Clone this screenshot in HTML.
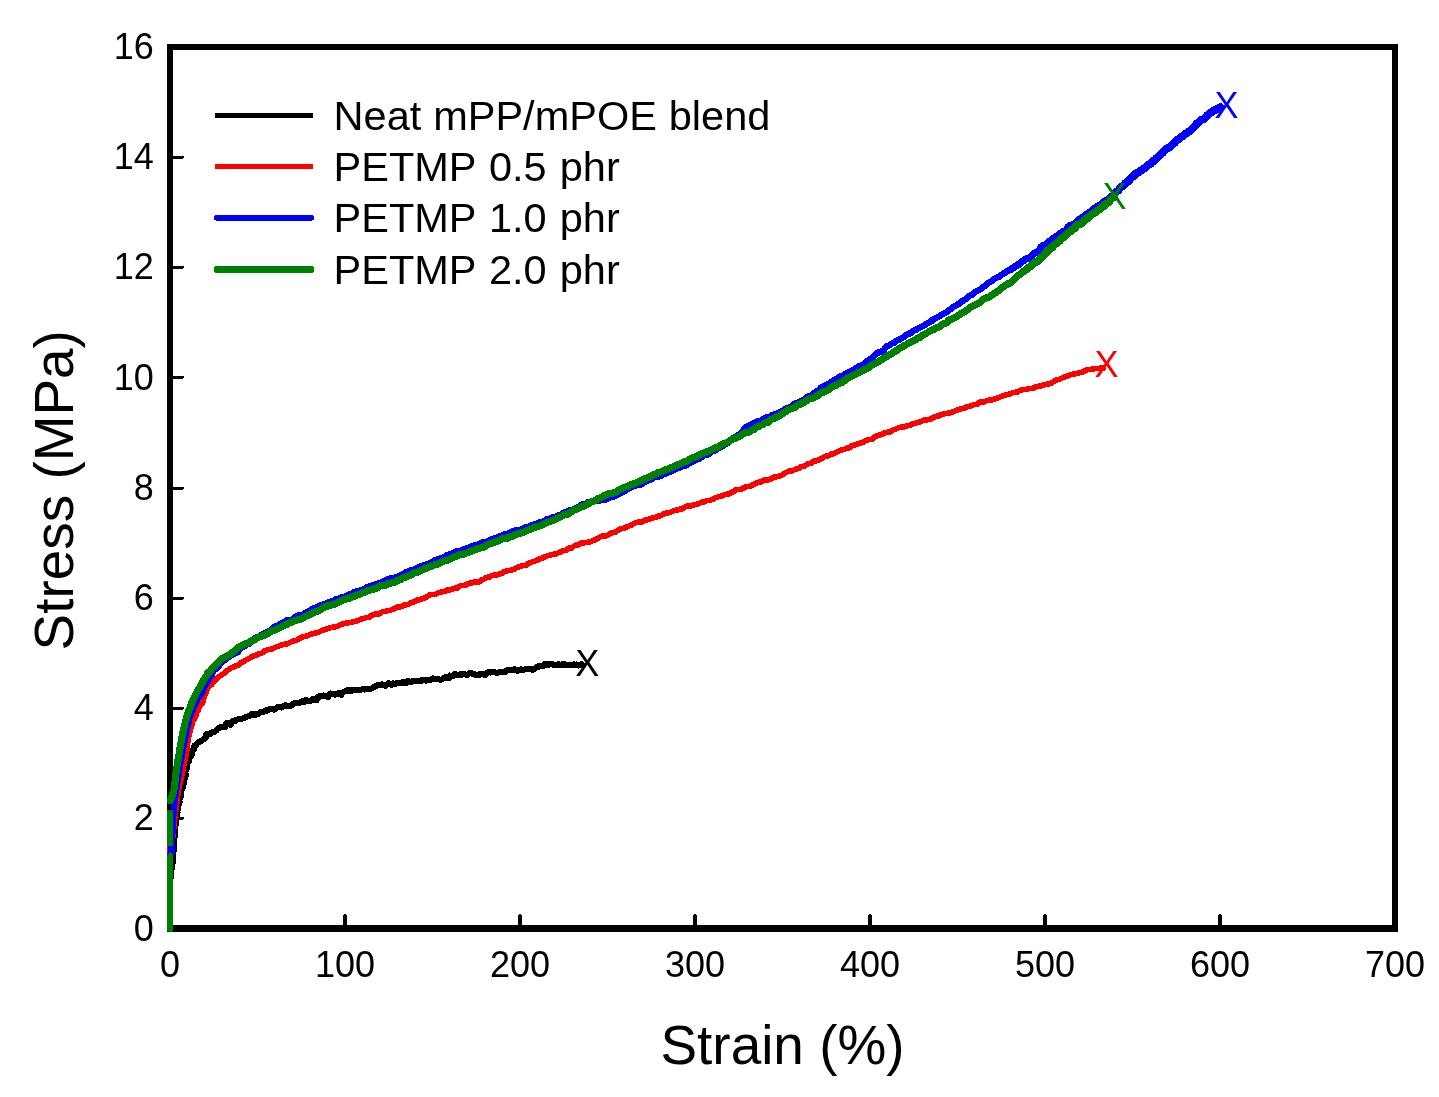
<!DOCTYPE html>
<html><head><meta charset="utf-8"><title>Stress-strain</title>
<style>
html,body{margin:0;padding:0;background:#fff;}
body{width:1439px;height:1097px;overflow:hidden;}
svg{display:block;will-change:transform;}
text{font-family:"Liberation Sans",sans-serif;fill:#000;}
.ln{fill:none;stroke-linejoin:round;stroke-linecap:round;shape-rendering:crispEdges;}
.cr{shape-rendering:crispEdges;}
</style></head><body>
<svg width="1439" height="1097" viewBox="0 0 1439 1097">

<g class="cr" fill="#000">
<rect x="167" y="44" width="6" height="888"/>
<rect x="1392" y="44" width="6" height="888"/>
<rect x="167" y="44" width="1231" height="6"/>
<rect x="167" y="925" width="1231" height="7"/>
<rect x="343" y="915" width="4" height="11"/><rect x="344" y="914" width="2" height="2"/>
<rect x="518" y="915" width="4" height="11"/><rect x="519" y="914" width="2" height="2"/>
<rect x="693" y="915" width="4" height="11"/><rect x="694" y="914" width="2" height="2"/>
<rect x="868" y="915" width="4" height="11"/><rect x="869" y="914" width="2" height="2"/>
<rect x="1043" y="915" width="4" height="11"/><rect x="1044" y="914" width="2" height="2"/>
<rect x="1218" y="915" width="4" height="11"/><rect x="1219" y="914" width="2" height="2"/>
<rect x="172" y="817" width="11" height="3"/><rect x="183" y="817" width="1" height="2"/>
<rect x="172" y="707" width="11" height="3"/><rect x="183" y="707" width="1" height="2"/>
<rect x="172" y="597" width="11" height="3"/><rect x="183" y="597" width="1" height="2"/>
<rect x="172" y="487" width="11" height="3"/><rect x="183" y="487" width="1" height="2"/>
<rect x="172" y="376" width="11" height="3"/><rect x="183" y="376" width="1" height="2"/>
<rect x="172" y="266" width="11" height="3"/><rect x="183" y="266" width="1" height="2"/>
<rect x="172" y="156" width="11" height="3"/><rect x="183" y="156" width="1" height="2"/>
</g>
<g font-size="36.0px">
<text x="170.0" y="976.8" text-anchor="middle">0</text>
<text x="345.0" y="976.8" text-anchor="middle">100</text>
<text x="520.0" y="976.8" text-anchor="middle">200</text>
<text x="695.0" y="976.8" text-anchor="middle">300</text>
<text x="870.0" y="976.8" text-anchor="middle">400</text>
<text x="1045.0" y="976.8" text-anchor="middle">500</text>
<text x="1220.0" y="976.8" text-anchor="middle">600</text>
<text x="1395.0" y="976.8" text-anchor="middle">700</text>
<text x="153.8" y="940.5" text-anchor="end">0</text>
<text x="153.8" y="830.3" text-anchor="end">2</text>
<text x="153.8" y="720.1" text-anchor="end">4</text>
<text x="153.8" y="609.9" text-anchor="end">6</text>
<text x="153.8" y="499.8" text-anchor="end">8</text>
<text x="153.8" y="389.6" text-anchor="end">10</text>
<text x="153.8" y="279.4" text-anchor="end">12</text>
<text x="153.8" y="169.2" text-anchor="end">14</text>
<text x="153.8" y="59.0" text-anchor="end">16</text>
</g>
<text x="782.5" y="1064.2" font-size="54.9px" text-anchor="middle">Strain (%)</text>
<text transform="translate(73,490.3) rotate(-90)" font-size="54.9px" text-anchor="middle">Stress (MPa)</text>
<path class="ln" d="M170.0,884.0 L170.1,882.5 L170.2,881.0 L170.4,879.5 L170.5,878.0 L170.6,876.5 L170.8,875.0 L171.0,873.5 L171.1,872.1 L171.3,870.6 L171.5,869.1 L171.8,867.6 L172.0,866.1 L172.2,864.6 L172.5,863.2 L172.6,861.7 L172.8,860.2 L172.9,858.7 L173.1,857.2 L173.2,855.7 L173.3,854.2 L173.4,852.7 L173.5,851.2 L173.6,849.7 L173.8,848.2 L173.9,846.7 L174.0,845.2 L174.1,843.7 L174.2,842.2 L174.3,840.7 L174.4,839.2 L174.5,837.7 L174.6,836.2 L174.7,834.7 L174.8,833.2 L175.0,831.7 L175.1,830.3 L175.2,828.8 L175.3,827.3 L175.5,825.8 L175.6,824.3 L175.8,822.8 L176.0,821.3 L176.2,819.8 L176.4,818.3 L176.6,816.8 L176.9,815.4 L177.3,813.9 L177.5,812.4 L177.4,810.9 L177.7,809.4 L178.2,808.0 L178.4,806.5 L178.5,805.0 L178.7,803.5 L179.6,802.1 L178.8,800.5 L179.1,799.0 L180.3,797.7 L181.0,796.3 L180.8,794.8 L180.4,793.1 L181.2,791.8 L181.6,790.3 L181.9,788.8 L183.0,787.5 L182.3,785.9 L182.5,784.4 L184.4,783.2 L184.2,781.7 L183.5,780.0 L184.5,778.7 L185.3,777.3 L185.8,775.9 L185.9,774.4 L185.0,772.6 L185.4,771.2 L186.1,769.8 L186.9,768.4 L187.3,767.0 L186.2,765.2 L185.8,763.5 L187.3,762.4 L188.8,761.3 L188.7,759.7 L189.0,758.1 L190.2,757.1 L191.0,755.8 L191.9,754.5 L192.4,753.1 L192.5,751.5 L193.0,750.0 L194.3,748.9 L194.1,747.2 L194.4,745.6 L196.2,745.2 L196.7,743.7 L197.8,742.7 L199.1,741.9 L200.6,741.2 L202.0,740.6 L203.1,739.5 L204.7,738.9 L205.6,737.8 L206.0,735.8 L206.5,734.0 L208.5,734.4 L210.1,734.3 L211.0,732.5 L212.6,732.3 L214.0,731.9 L215.4,731.3 L216.5,730.2 L217.5,729.0 L218.6,727.9 L220.2,727.6 L221.5,726.9 L223.1,726.7 L224.9,727.2 L225.8,725.4 L226.3,723.2 L227.9,723.1 L230.5,724.8 L231.5,723.5 L232.1,721.2 L233.8,721.3 L235.3,721.0 L236.4,719.7 L237.9,719.4 L239.5,719.4 L240.9,718.9 L242.4,718.5 L243.8,718.2 L245.1,717.2 L246.5,716.8 L248.0,716.4 L249.4,715.9 L250.8,715.2 L252.0,714.0 L253.8,714.9 L255.4,714.9 L256.6,713.7 L258.2,713.8 L259.5,712.9 L260.7,711.9 L262.3,712.1 L263.9,711.9 L265.0,710.5 L266.5,710.4 L268.2,710.5 L269.3,709.2 L270.8,708.8 L272.3,708.8 L274.1,709.8 L275.5,709.0 L276.7,707.9 L278.1,707.0 L279.5,706.6 L281.3,707.5 L282.7,706.9 L283.9,705.7 L285.4,705.3 L287.1,705.8 L288.6,705.7 L290.2,706.1 L291.6,705.5 L292.7,703.7 L294.2,703.3 L295.7,703.1 L297.1,702.9 L298.7,702.8 L300.2,702.6 L301.4,701.4 L303.0,701.6 L304.6,701.7 L305.8,700.3 L307.4,700.5 L309.1,701.1 L310.5,700.7 L311.9,699.9 L313.2,699.0 L315.0,700.0 L316.6,700.4 L317.5,697.7 L318.7,696.4 L320.3,696.6 L321.7,695.9 L323.2,695.5 L324.8,695.9 L326.4,696.3 L328.0,696.9 L329.1,694.4 L330.5,693.5 L332.1,693.8 L333.6,694.1 L335.2,694.7 L336.7,694.2 L338.1,693.4 L339.6,693.5 L341.4,694.7 L342.5,692.8 L343.8,691.6 L345.3,691.2 L346.7,690.7 L348.1,690.1 L349.8,690.9 L351.3,690.9 L352.7,689.6 L354.3,690.2 L355.7,689.9 L357.3,689.8 L358.8,689.7 L360.3,689.6 L361.7,689.5 L363.2,689.2 L364.8,689.5 L366.2,689.1 L367.7,688.8 L369.2,688.6 L370.7,688.6 L372.2,688.3 L373.5,687.2 L374.8,686.4 L376.3,685.9 L377.7,685.2 L379.2,685.3 L380.7,685.2 L382.1,684.3 L383.8,685.2 L385.4,685.7 L386.7,684.8 L388.0,683.4 L389.6,683.5 L391.3,684.7 L392.6,683.4 L394.2,683.7 L395.7,684.1 L397.1,682.8 L398.6,683.0 L400.2,683.4 L401.6,682.9 L403.0,681.9 L404.6,682.7 L406.2,683.0 L407.5,681.1 L409.0,681.5 L410.6,682.1 L412.0,681.5 L413.5,681.3 L415.0,681.0 L416.5,681.3 L418.0,680.7 L419.5,681.0 L421.0,681.0 L422.5,679.8 L424.0,679.9 L425.5,680.6 L427.0,680.5 L428.5,679.7 L430.1,680.1 L431.5,679.4 L433.0,678.3 L434.5,679.2 L436.0,678.8 L437.5,678.6 L439.0,679.3 L440.5,680.0 L441.9,679.4 L443.2,678.4 L444.6,678.3 L445.6,677.0 L447.5,677.8 L449.2,677.9 L449.9,675.5 L451.7,675.9 L453.3,675.8 L454.5,674.2 L456.1,674.3 L457.7,675.2 L459.2,674.8 L460.6,674.1 L462.2,674.6 L463.7,674.2 L465.2,674.3 L466.7,675.0 L468.2,674.4 L469.7,673.2 L471.2,673.5 L472.7,673.5 L474.2,674.1 L475.7,674.7 L477.2,674.6 L478.8,674.5 L480.3,674.5 L481.7,673.7 L483.2,673.6 L484.9,675.0 L486.2,673.9 L487.6,672.5 L489.1,672.4 L490.6,672.5 L492.1,672.1 L493.6,672.4 L495.1,672.4 L496.7,672.9 L498.2,672.7 L499.6,671.9 L501.1,672.4 L502.6,671.8 L504.1,672.3 L505.6,671.8 L507.1,670.2 L508.6,670.2 L510.1,670.4 L511.5,669.8 L513.0,669.6 L514.5,669.2 L516.0,670.2 L517.6,671.0 L518.9,670.0 L520.3,669.5 L521.9,669.5 L523.4,669.9 L524.9,669.5 L526.2,668.8 L527.8,668.9 L529.3,668.8 L530.9,669.1 L532.7,669.9 L534.0,669.0 L535.4,668.3 L536.6,667.2 L538.0,666.5 L539.7,666.5 L541.1,666.0 L542.7,666.2 L543.8,664.7 L545.2,663.8 L546.8,664.5 L548.3,664.6 L549.8,664.4 L551.3,663.7 L552.7,664.4 L554.2,665.0 L555.7,665.2 L557.3,664.5 L558.8,664.3 L560.3,665.2 L561.8,665.4 L563.3,663.9 L564.8,664.2 L566.3,665.2 L567.8,665.3 L569.3,665.0 L570.8,665.2 L572.3,664.7 L573.8,664.4 L575.3,664.7 L576.8,664.5 L578.3,665.5 L579.8,664.8 L581.2,664.2 L581.8,664.6" stroke="#000" stroke-width="6.1"/>
<path class="ln" d="M170.0,850.0 L170.6,848.1 L171.1,846.1 L171.6,844.2 L172.1,842.3 L172.5,840.3 L172.7,838.3 L173.0,836.4 L173.2,834.4 L173.4,832.4 L173.6,830.4 L173.8,828.4 L174.0,826.4 L174.2,824.4 L174.4,822.4 L174.6,820.4 L174.8,818.4 L175.0,816.4 L175.2,814.5 L175.5,812.5 L175.7,810.5 L175.9,808.5 L176.2,806.5 L176.5,804.5 L176.7,802.5 L177.0,800.6 L177.3,798.6 L177.6,796.6 L177.9,794.6 L178.2,792.7 L178.6,790.7 L178.9,788.7 L179.3,786.8 L179.7,784.8 L180.1,782.8 L180.6,780.9 L181.0,778.9 L181.4,777.0 L181.9,775.0 L182.3,773.1 L182.7,771.1 L183.1,769.2 L183.5,767.2 L183.9,765.2 L184.3,763.3 L184.8,761.3 L185.2,759.4 L185.5,757.4 L185.9,755.4 L186.3,753.5 L186.6,751.5 L186.9,749.5 L187.1,747.5 L187.4,745.5 L187.6,743.5 L187.9,741.6 L188.2,739.6 L188.5,737.6 L188.9,735.7 L189.3,733.7 L189.8,731.8 L190.4,729.9 L191.0,728.0 L191.6,726.1 L192.0,724.1 L192.5,722.1 L193.5,720.3 L194.7,718.6 L195.4,716.8 L196.2,715.0 L196.5,712.9 L197.5,711.2 L198.6,709.5 L199.0,707.4 L199.7,705.6 L201.4,704.1 L202.6,702.5 L203.2,700.5 L203.8,698.6 L204.2,696.6 L205.1,694.8 L206.0,693.0 L206.4,691.0 L207.3,689.3 L208.4,687.5 L209.7,686.0 L211.4,684.8 L212.5,683.1 L213.9,681.7 L215.4,680.4 L216.6,678.8 L218.2,677.5 L219.7,676.2 L221.5,675.2 L223.1,674.0 L224.6,672.6 L226.2,671.4 L227.8,670.2 L229.3,668.9 L231.1,667.9 L233.0,667.2 L234.9,666.4 L236.6,665.6 L238.6,664.9 L240.2,663.8 L241.6,662.2 L243.6,661.6 L245.3,660.6 L247.0,659.5 L248.8,658.6 L250.5,657.7 L252.3,656.7 L254.1,655.8 L256.1,655.4 L257.7,654.1 L259.7,653.6 L261.7,653.2 L263.3,652.0 L265.0,650.8 L266.9,650.0 L268.8,649.5 L270.8,649.2 L272.8,648.8 L274.6,647.8 L276.4,646.9 L278.3,646.3 L280.1,645.5 L282.0,644.9 L284.0,644.4 L286.0,644.1 L288.0,643.7 L289.7,642.6 L291.5,641.7 L293.4,641.1 L295.4,640.6 L297.2,639.9 L298.9,638.8 L300.7,637.9 L302.5,636.9 L304.5,636.5 L306.4,636.0 L308.3,635.4 L310.1,634.4 L312.1,633.9 L314.0,633.3 L315.9,632.8 L317.9,632.5 L319.8,631.7 L321.6,630.8 L323.4,630.0 L325.4,629.5 L327.2,628.7 L329.2,628.2 L331.1,627.7 L333.0,627.1 L335.0,626.8 L337.0,626.5 L338.8,625.7 L340.6,624.6 L342.5,623.9 L344.5,623.6 L346.4,622.9 L348.4,622.7 L350.4,622.5 L352.3,621.9 L354.3,621.6 L356.3,621.2 L358.1,620.4 L359.9,619.4 L361.8,618.8 L363.9,618.6 L365.7,617.8 L367.7,617.4 L369.6,616.9 L371.2,615.4 L373.1,614.7 L375.1,614.2 L377.1,614.0 L379.2,613.9 L380.9,612.7 L382.7,611.7 L384.7,611.5 L386.6,610.9 L388.6,610.6 L390.6,610.2 L392.4,609.2 L394.3,608.7 L396.0,607.6 L397.9,607.0 L400.0,607.0 L401.9,606.3 L403.7,605.3 L405.7,604.8 L407.7,604.6 L409.6,603.8 L411.2,602.4 L413.2,602.1 L415.0,601.3 L416.8,600.3 L418.8,600.0 L420.7,599.4 L422.5,598.6 L424.4,597.9 L426.4,597.5 L428.0,596.0 L429.7,594.9 L431.8,594.6 L433.9,594.7 L435.8,594.1 L437.6,593.2 L439.5,592.5 L441.5,592.1 L443.4,591.6 L445.3,591.0 L447.1,590.1 L449.1,589.7 L451.2,589.7 L452.9,588.6 L454.9,588.2 L457.0,588.2 L458.7,586.9 L460.5,585.8 L462.5,585.5 L464.5,585.5 L466.4,584.6 L468.1,583.4 L470.1,583.2 L472.1,583.0 L473.9,582.0 L476.1,582.2 L478.2,582.3 L480.0,581.2 L481.7,580.0 L483.6,579.3 L485.3,578.2 L487.1,577.3 L489.1,577.1 L490.9,576.1 L492.8,575.3 L494.9,575.2 L496.9,575.0 L498.8,574.3 L500.7,573.8 L502.5,572.9 L504.2,571.7 L506.1,570.9 L508.1,570.6 L510.2,570.6 L512.1,569.9 L513.9,569.2 L515.7,568.2 L517.5,567.2 L519.4,566.7 L521.2,565.8 L523.3,565.7 L525.4,565.6 L527.1,564.3 L528.8,563.2 L530.7,562.5 L532.5,561.7 L534.4,561.2 L536.4,560.6 L538.1,559.7 L540.0,558.9 L541.9,558.2 L543.7,557.4 L545.5,556.5 L547.4,555.8 L549.3,555.3 L551.3,554.8 L553.2,554.3 L555.2,554.0 L557.2,553.5 L558.9,552.4 L560.8,551.8 L562.6,550.9 L564.6,550.4 L566.6,550.0 L568.2,548.6 L570.1,547.9 L572.1,547.8 L573.7,546.3 L575.5,545.3 L577.5,545.1 L579.3,544.1 L581.1,543.2 L583.1,542.9 L585.1,542.6 L587.2,542.3 L589.2,542.2 L591.1,541.4 L592.9,540.5 L594.8,539.9 L596.6,539.0 L598.4,538.0 L600.1,536.9 L602.0,536.2 L604.0,536.1 L606.1,535.8 L607.9,535.0 L609.7,534.0 L611.4,532.9 L613.3,532.4 L615.4,532.1 L617.1,530.9 L618.7,529.7 L620.6,528.9 L622.6,528.5 L624.6,528.1 L626.3,527.1 L628.2,526.3 L630.1,525.7 L631.9,524.8 L633.6,523.7 L635.4,522.9 L637.3,522.2 L639.3,521.9 L641.6,522.3 L643.3,521.1 L645.0,520.0 L647.1,519.9 L649.0,519.2 L650.9,518.6 L652.8,517.9 L654.7,517.6 L656.7,517.0 L658.5,516.1 L660.4,515.7 L662.3,514.9 L664.0,513.7 L665.9,513.1 L668.0,513.0 L669.9,512.5 L671.7,511.6 L673.6,510.8 L675.5,510.2 L677.5,509.9 L679.4,509.3 L681.4,509.0 L683.3,508.3 L685.0,507.0 L686.8,506.0 L688.8,506.0 L690.9,505.9 L692.8,505.3 L694.7,504.7 L696.7,504.2 L698.6,503.8 L700.4,502.8 L702.3,502.1 L704.3,501.9 L706.1,500.9 L708.1,500.4 L710.2,500.4 L712.0,499.7 L713.8,498.7 L715.6,497.8 L717.5,497.2 L719.4,496.5 L721.3,496.0 L723.2,495.3 L725.1,494.7 L727.0,494.0 L729.0,493.8 L730.8,492.8 L732.6,492.0 L734.5,491.2 L736.1,489.7 L738.1,489.5 L740.2,489.3 L742.1,488.8 L743.9,487.8 L745.7,486.9 L747.7,486.6 L749.7,486.2 L751.6,485.5 L753.4,484.6 L755.2,483.7 L756.9,482.7 L758.9,482.2 L760.9,481.8 L762.7,481.0 L764.5,480.0 L766.5,479.7 L768.7,479.8 L770.5,479.0 L772.3,478.1 L774.1,477.2 L776.1,476.8 L778.0,476.4 L780.0,475.9 L781.9,475.1 L783.5,473.7 L785.3,472.8 L787.1,472.0 L788.9,471.2 L791.0,470.9 L793.0,470.7 L794.7,469.4 L796.6,468.9 L798.6,468.5 L800.2,467.2 L802.1,466.6 L804.1,466.1 L805.9,465.1 L807.5,463.9 L809.5,463.4 L811.5,463.0 L813.1,461.6 L814.9,460.9 L817.0,460.7 L818.8,459.7 L820.6,458.9 L822.4,458.1 L824.1,457.0 L826.0,456.2 L828.1,456.0 L829.9,455.1 L831.6,454.0 L833.6,453.7 L835.4,452.7 L837.2,451.8 L839.0,451.0 L840.8,450.2 L842.8,449.7 L844.7,449.1 L846.5,448.2 L848.6,448.0 L850.4,447.3 L852.0,445.8 L853.9,445.2 L855.7,444.4 L857.7,444.0 L859.6,443.2 L861.5,442.6 L863.5,442.2 L865.1,440.9 L867.0,440.1 L868.9,439.6 L870.9,439.4 L872.9,438.8 L874.4,437.2 L876.2,436.2 L878.0,435.4 L880.0,435.0 L881.9,434.4 L883.6,433.4 L885.5,432.8 L887.5,432.3 L889.6,432.2 L891.4,431.1 L893.0,429.9 L895.0,429.5 L896.8,428.6 L898.7,427.8 L900.6,427.3 L902.7,427.1 L904.6,426.6 L906.5,425.9 L908.4,425.4 L910.4,425.1 L912.2,424.2 L914.1,423.6 L916.0,423.0 L917.9,422.4 L919.9,422.1 L921.8,421.2 L923.5,420.2 L925.6,419.9 L927.6,419.7 L929.6,419.4 L931.4,418.6 L933.2,417.5 L935.1,416.9 L937.0,416.2 L938.9,415.8 L940.8,414.9 L942.6,414.2 L944.6,413.8 L946.6,413.4 L948.5,413.0 L950.5,412.7 L952.4,412.1 L954.3,411.4 L956.2,410.6 L958.0,409.7 L959.9,409.0 L961.8,408.6 L963.8,408.2 L965.7,407.6 L967.5,406.5 L969.5,406.2 L971.4,405.7 L973.2,404.8 L975.2,404.4 L977.2,404.1 L978.9,402.9 L980.7,401.9 L982.8,401.9 L984.8,401.7 L986.6,400.8 L988.5,400.2 L990.6,400.2 L992.6,399.6 L994.4,398.9 L996.4,398.6 L998.2,397.7 L1000.1,397.0 L1002.0,396.3 L1003.8,395.5 L1005.7,394.9 L1007.7,394.5 L1009.7,394.1 L1011.5,393.2 L1013.3,392.3 L1015.4,392.3 L1017.4,392.0 L1019.2,391.0 L1021.1,390.2 L1022.9,389.4 L1025.0,389.4 L1027.0,389.3 L1028.9,388.5 L1030.9,388.3 L1033.0,388.4 L1034.8,387.3 L1036.7,386.6 L1038.6,386.3 L1040.6,386.0 L1042.6,385.6 L1044.4,384.6 L1046.4,384.3 L1048.4,384.1 L1050.3,383.3 L1052.2,382.7 L1053.8,381.4 L1055.5,380.3 L1057.5,379.8 L1059.4,379.2 L1061.2,378.4 L1063.0,377.4 L1064.9,376.9 L1066.8,376.2 L1068.7,375.6 L1070.5,374.7 L1072.5,374.3 L1074.5,374.0 L1076.4,373.4 L1078.4,373.0 L1080.3,372.5 L1082.3,372.2 L1084.2,371.6 L1085.9,370.1 L1087.8,369.7 L1089.9,369.5 L1091.9,369.2 L1093.9,369.0 L1095.8,368.4 L1097.8,368.3 L1099.8,368.3 L1101.8,368.0 L1103.4,368.0" stroke="#f00" stroke-width="5.6"/>
<path class="ln" d="M170.0,850.0 L170.5,848.1 L171.0,846.1 L171.4,844.1 L171.8,842.2 L172.0,840.2 L172.1,838.2 L172.2,836.2 L172.3,834.2 L172.4,832.2 L172.4,830.2 L172.5,828.2 L172.6,826.2 L172.7,824.2 L172.8,822.2 L173.0,820.2 L173.1,818.2 L173.3,816.2 L173.4,814.2 L173.6,812.2 L173.8,810.3 L174.0,808.3 L174.2,806.3 L174.4,804.3 L174.6,802.3 L174.9,800.3 L175.2,798.3 L175.4,796.4 L175.7,794.4 L176.0,792.4 L176.2,790.4 L176.5,788.4 L176.8,786.4 L177.1,784.5 L177.4,782.5 L177.7,780.5 L178.0,778.5 L178.3,776.6 L178.6,774.6 L178.9,772.6 L179.2,770.6 L179.5,768.7 L179.9,766.7 L180.2,764.7 L180.5,762.7 L180.9,760.8 L181.2,758.8 L181.6,756.8 L181.9,754.9 L182.3,752.9 L182.6,750.9 L183.0,749.0 L183.4,747.0 L183.8,745.0 L184.2,743.1 L184.5,741.1 L185.0,739.1 L185.4,737.2 L185.8,735.2 L186.2,733.3 L186.6,731.3 L187.0,729.3 L187.4,727.4 L187.7,725.4 L188.3,723.5 L189.0,721.6 L189.1,719.5 L189.4,717.6 L190.5,715.8 L191.1,713.9 L192.0,712.1 L192.6,710.2 L193.1,708.2 L193.9,706.4 L195.0,704.7 L196.1,703.0 L196.7,701.0 L197.2,699.1 L198.5,697.5 L200.0,696.0 L200.8,694.2 L201.9,692.5 L202.9,690.7 L203.5,688.8 L204.4,687.0 L205.3,685.2 L206.7,683.7 L207.6,681.9 L208.1,679.9 L209.4,678.3 L210.6,676.7 L211.7,675.0 L212.4,673.1 L213.2,671.2 L214.7,669.7 L216.5,668.7 L218.0,667.2 L219.1,665.6 L220.3,663.9 L221.8,662.6 L223.2,661.2 L224.8,660.0 L226.4,658.7 L227.9,657.5 L229.7,656.5 L231.4,655.4 L233.1,654.3 L235.0,653.5 L236.8,652.7 L238.3,651.3 L239.5,649.5 L240.8,647.9 L242.8,647.2 L244.5,646.2 L246.0,644.8 L247.8,643.9 L249.8,643.4 L251.1,641.7 L252.2,640.0 L253.9,638.8 L255.7,637.8 L257.4,636.9 L259.4,636.3 L261.0,635.3 L262.6,634.1 L264.5,633.4 L266.4,632.6 L268.2,631.7 L269.9,630.6 L271.4,629.2 L273.0,627.9 L274.7,626.8 L276.6,626.2 L278.6,625.6 L280.0,624.1 L281.7,623.0 L283.6,622.3 L285.4,621.3 L287.1,620.2 L289.0,619.7 L291.3,619.8 L293.0,618.8 L294.5,617.3 L296.3,616.4 L298.1,615.5 L300.1,615.1 L302.2,614.8 L304.0,613.8 L305.7,612.8 L307.5,612.0 L309.3,611.1 L310.9,609.9 L312.6,608.8 L314.6,608.2 L316.4,607.3 L318.1,606.3 L319.9,605.5 L321.8,604.7 L323.8,604.4 L325.7,603.6 L327.5,602.7 L329.4,602.3 L331.3,601.6 L333.2,601.0 L334.9,599.8 L336.7,598.9 L338.7,598.6 L340.5,597.6 L342.5,597.2 L344.4,596.7 L346.3,596.0 L348.1,595.0 L349.9,594.3 L351.8,593.6 L353.5,592.5 L355.5,592.0 L357.3,591.1 L359.3,590.7 L361.2,590.3 L363.1,589.7 L364.9,588.8 L366.6,587.4 L368.5,586.7 L370.4,586.2 L372.3,585.5 L374.1,584.7 L376.0,584.1 L378.0,583.7 L379.8,582.9 L381.7,582.1 L383.6,581.5 L385.2,580.3 L387.1,579.6 L389.0,578.8 L391.0,578.4 L393.1,578.3 L394.9,577.6 L396.8,576.8 L398.8,576.5 L400.6,575.6 L402.3,574.4 L404.1,573.6 L405.8,572.3 L407.7,571.8 L409.5,570.9 L411.4,570.2 L413.4,569.8 L415.2,569.1 L417.1,568.2 L418.8,567.1 L420.6,566.4 L422.5,565.8 L424.4,565.1 L426.3,564.5 L428.2,563.8 L430.0,562.9 L431.8,562.1 L433.6,561.2 L435.3,560.0 L437.2,559.3 L439.1,558.7 L441.1,558.3 L443.2,558.2 L444.7,556.6 L446.4,555.5 L448.4,555.2 L450.2,554.1 L452.1,553.5 L454.0,552.9 L455.7,551.7 L457.6,551.2 L459.7,550.9 L461.6,550.4 L463.4,549.4 L465.2,548.7 L467.3,548.6 L469.1,547.5 L470.8,546.5 L472.8,546.1 L474.7,545.4 L476.7,545.2 L478.7,544.6 L480.3,543.3 L482.1,542.4 L484.0,541.9 L486.1,541.8 L488.1,541.2 L489.7,539.9 L491.7,539.4 L493.5,538.6 L495.5,538.4 L497.4,537.5 L499.1,536.4 L501.1,536.0 L502.9,535.3 L504.7,534.3 L506.7,533.9 L508.7,533.5 L510.4,532.5 L512.2,531.6 L514.1,530.8 L516.1,530.4 L518.1,530.3 L520.1,529.7 L522.0,529.1 L523.8,528.4 L525.6,527.5 L527.5,526.9 L529.5,526.4 L531.3,525.4 L533.1,524.7 L535.1,524.4 L537.0,523.6 L538.7,522.5 L540.7,522.0 L542.7,521.8 L544.5,520.9 L546.2,519.6 L548.1,519.0 L550.1,518.6 L551.8,517.5 L553.6,516.7 L555.8,516.7 L557.5,515.6 L559.4,515.0 L561.4,514.6 L563.0,513.3 L564.8,512.4 L566.6,511.6 L568.4,510.6 L570.6,510.6 L572.4,509.7 L574.2,508.9 L576.1,508.3 L577.9,507.3 L579.7,506.5 L581.3,505.1 L583.1,504.1 L585.1,503.8 L586.9,502.9 L588.7,501.7 L590.8,501.7 L592.7,501.4 L594.7,500.6 L596.7,500.3 L598.7,500.6 L600.7,500.4 L602.6,500.1 L604.6,500.0 L606.5,499.3 L608.2,498.1 L610.0,497.2 L611.9,496.7 L613.9,496.4 L615.8,495.7 L617.6,494.8 L619.4,493.8 L621.2,493.0 L623.0,492.1 L624.8,491.0 L626.5,489.9 L628.1,488.7 L630.1,488.0 L631.9,487.2 L633.7,486.2 L635.7,485.7 L637.6,485.1 L639.6,484.7 L641.6,484.3 L643.1,482.7 L644.9,481.8 L646.9,481.3 L648.6,480.3 L650.6,479.7 L652.4,479.0 L653.9,477.3 L655.9,476.9 L658.0,476.8 L659.9,476.2 L661.8,475.5 L663.4,474.1 L665.4,473.8 L667.2,473.0 L668.9,471.8 L671.0,471.5 L672.8,470.7 L674.5,469.7 L676.4,468.8 L678.3,468.2 L680.0,467.2 L681.8,466.4 L683.7,465.8 L685.8,465.4 L687.5,464.4 L689.0,462.9 L691.0,462.4 L692.9,461.7 L694.6,460.7 L696.4,459.8 L698.3,459.2 L700.1,458.2 L701.7,457.0 L703.3,455.6 L705.0,454.6 L707.2,454.6 L709.1,453.8 L710.6,452.4 L712.4,451.4 L714.2,450.7 L716.1,450.0 L717.7,448.7 L719.5,447.8 L721.3,447.0 L723.0,445.9 L724.5,444.6 L726.3,443.7 L728.1,442.7 L729.4,441.2 L730.9,439.7 L732.5,438.5 L734.3,437.7 L736.0,436.5 L737.6,435.3 L739.3,434.2 L741.0,433.1 L742.5,431.7 L743.7,430.0 L744.7,428.2 L746.2,426.9 L748.2,426.3 L749.8,425.3 L751.6,424.4 L753.3,423.4 L755.1,422.4 L757.0,421.6 L759.0,421.2 L760.9,420.5 L762.6,419.4 L764.3,418.3 L766.1,417.5 L768.2,417.3 L770.1,416.7 L771.7,415.3 L773.6,414.7 L775.7,414.4 L777.4,413.4 L779.1,412.3 L781.0,411.5 L782.8,410.7 L784.5,409.6 L786.1,408.5 L788.1,407.8 L790.0,407.2 L791.8,406.4 L793.3,404.9 L794.9,403.6 L797.0,403.3 L798.6,402.1 L800.4,401.2 L802.3,400.4 L804.0,399.4 L805.6,398.2 L807.2,396.9 L809.1,396.2 L811.0,395.4 L812.6,394.2 L814.1,392.9 L815.8,391.9 L817.6,391.0 L819.1,389.6 L820.5,388.0 L822.3,387.2 L824.0,386.1 L825.7,385.0 L827.6,384.3 L829.4,383.4 L830.9,382.0 L832.7,381.1 L834.4,380.0 L836.1,379.0 L837.9,378.1 L839.4,376.8 L841.5,376.3 L843.3,375.4 L844.8,374.1 L846.6,373.2 L848.5,372.4 L850.4,371.7 L852.1,370.6 L853.9,369.9 L855.6,368.7 L857.1,367.3 L858.8,366.3 L860.7,365.6 L862.6,364.8 L864.4,363.9 L865.9,362.6 L867.3,361.1 L869.0,360.1 L870.5,358.8 L872.2,357.6 L873.9,356.5 L875.2,354.9 L876.6,353.5 L878.4,352.5 L880.3,351.8 L882.4,351.3 L883.8,349.9 L885.1,348.2 L886.4,346.6 L888.2,345.7 L890.2,345.1 L891.7,343.8 L893.6,343.0 L895.2,341.8 L896.8,340.6 L898.8,339.9 L900.4,338.8 L902.2,337.8 L904.1,337.2 L905.6,335.8 L907.1,334.3 L909.0,333.7 L910.9,333.0 L912.4,331.6 L914.1,330.5 L916.0,329.7 L917.7,328.6 L919.5,327.8 L921.2,326.8 L923.1,326.0 L924.9,325.2 L926.5,323.9 L928.2,322.9 L930.0,322.0 L931.7,320.9 L933.1,319.3 L934.9,318.4 L936.8,317.7 L938.6,316.8 L940.3,315.8 L941.9,314.6 L943.7,313.7 L945.6,312.9 L947.2,311.8 L948.7,310.3 L950.3,309.2 L952.0,308.0 L953.6,306.9 L955.3,305.9 L957.0,304.7 L958.9,304.0 L960.5,302.9 L961.9,301.4 L963.6,300.3 L965.4,299.3 L966.9,297.9 L968.3,296.5 L970.1,295.6 L972.0,294.7 L973.7,293.7 L975.1,292.3 L976.7,291.1 L978.5,290.1 L980.4,289.4 L982.0,288.2 L983.5,286.9 L985.2,285.7 L986.6,284.3 L988.2,283.1 L990.0,282.1 L991.7,281.1 L993.4,280.0 L994.8,278.5 L996.6,277.6 L998.7,277.2 L1000.2,275.8 L1001.8,274.6 L1003.5,273.6 L1005.3,272.6 L1006.8,271.3 L1008.6,270.4 L1010.5,269.6 L1012.2,268.6" stroke="#00f" stroke-width="6.4"/>
<path class="ln" d="M1008.6,270.4 L1010.5,269.6 L1012.2,268.6 L1014.0,267.7 L1015.5,266.3 L1017.1,265.2 L1019.0,264.3 L1020.6,263.2 L1022.1,261.7 L1023.8,260.8 L1025.3,259.4 L1027.2,258.7 L1029.2,258.1 L1030.6,256.5 L1032.3,255.4 L1033.8,254.1 L1035.2,252.7 L1037.3,252.1 L1039.1,251.1 L1040.0,249.1 L1040.9,247.0 L1042.6,245.9 L1044.7,245.4 L1046.4,244.2 L1047.7,242.6 L1049.4,241.6 L1050.9,240.3 L1052.5,239.0 L1054.3,238.1 L1055.9,237.0 L1057.4,235.7 L1058.9,234.3 L1060.6,233.1 L1062.3,232.1 L1064.1,231.2 L1066.1,230.6 L1067.5,229.1 L1068.5,227.1 L1070.2,226.0 L1072.1,225.2" stroke="#00f" stroke-width="7.2"/>
<path class="ln" d="M1067.5,229.1 L1068.5,227.1 L1070.2,226.0 L1072.1,225.2 L1074.0,224.4 L1075.7,223.4 L1077.0,221.8 L1078.4,220.3 L1080.3,219.5 L1081.9,218.2 L1083.5,217.0 L1085.2,216.0 L1086.7,214.7 L1088.4,213.6 L1090.0,212.4 L1091.7,211.4 L1093.0,209.8 L1094.6,208.5 L1096.4,207.6 L1098.0,206.5 L1099.9,205.7 L1101.5,204.5 L1102.9,202.9 L1104.5,201.7 L1106.2,200.7 L1108.1,199.8 L1109.5,198.4 L1111.1,197.2 L1112.8,196.2 L1114.1,194.5 L1115.3,192.9 L1116.7,191.5 L1118.5,190.4 L1119.5,188.6 L1120.9,187.2 L1123.0,186.4 L1124.2,184.8 L1125.4,183.2 L1127.2,182.2 L1128.8,181.0 L1129.8,179.1 L1131.1,177.6 L1132.9,176.6 L1134.4,175.3 L1135.6,173.7 L1137.4,172.7 L1139.3,171.8 L1140.8,170.6 L1142.5,169.5 L1144.2,168.4 L1145.8,167.2 L1147.1,165.6 L1148.9,164.6 L1150.7,163.7 L1152.1,162.2 L1153.6,160.9 L1155.2,159.7 L1156.4,158.1 L1158.2,157.0 L1159.5,155.5 L1160.9,154.1 L1162.5,152.9 L1163.9,151.4 L1165.3,150.0 L1166.7,148.5 L1168.6,147.7 L1170.3,146.6 L1171.7,145.2 L1173.2,143.8 L1174.8,142.6 L1176.2,141.1 L1177.5,139.6 L1179.3,138.7 L1180.9,137.4 L1182.4,136.1 L1184.0,134.9 L1185.7,133.8 L1187.2,132.5 L1189.0,131.6 L1190.7,130.5 L1192.2,129.1 L1193.6,127.7 L1194.9,126.1 L1196.1,124.4 L1197.6,123.1 L1199.0,121.7 L1200.5,120.3 L1202.5,119.6 L1204.4,118.7 L1205.9,117.4 L1207.0,115.6 L1208.5,114.3 L1210.1,113.1 L1211.7,111.9 L1213.4,110.8 L1215.0,109.7 L1217.0,109.1 L1218.8,108.2 L1220.4,107.2" stroke="#00f" stroke-width="8.0"/>
<g class="cr">
<rect x="167" y="855" width="6" height="76" fill="#008000"/>
<path d="M168,931 L172,931 L172,932 L169,932 Z" fill="#008000"/>
<rect x="167" y="845" width="8" height="10" fill="#00f"/>
<path d="M167,855 L170,852 L173,855 Z" fill="#008000"/>
<rect x="167" y="845" width="1.4" height="8" fill="#f00"/>
<rect x="167" y="810" width="6" height="35.6" fill="#008000"/>
</g>
<path class="ln" d="M170.3,800.5 L171.0,798.6 L171.7,796.8 L172.4,794.9 L173.0,793.0 L173.6,791.1 L174.1,789.1 L174.4,787.2 L174.7,785.2 L174.9,783.2 L175.2,781.2 L175.4,779.2 L175.6,777.2 L175.8,775.2 L176.0,773.2 L176.3,771.3 L176.6,769.3 L176.9,767.3 L177.2,765.3 L177.5,763.4 L177.8,761.4 L178.2,759.4 L178.5,757.4 L178.8,755.5 L179.2,753.5 L179.5,751.5 L179.8,749.5 L180.1,747.6 L180.5,745.6 L180.8,743.6 L181.2,741.6 L181.5,739.7 L181.9,737.7 L182.3,735.8 L182.7,733.8 L183.1,731.8 L183.5,729.9 L184.0,727.9 L184.4,726.0 L184.9,724.0 L185.4,722.1 L185.9,720.2 L186.4,718.2 L187.0,716.3 L187.6,714.4 L188.2,712.5 L188.9,710.6 L189.6,708.8 L190.3,706.9 L191.0,705.0 L191.7,703.1 L192.5,701.3 L193.3,699.5 L194.2,697.7 L195.0,695.9 L195.9,694.1 L196.9,692.3 L197.8,690.5 L198.8,688.8 L199.8,687.0 L200.7,685.3 L201.7,683.6 L202.7,681.8 L203.7,680.1 L204.7,678.3 L205.8,676.7 L206.9,675.0 L207.7,673.1 L209.4,671.8 L210.8,670.4 L211.7,668.5 L213.4,667.4 L214.9,666.1 L216.2,664.5 L217.6,663.1 L219.0,661.6 L220.3,660.2 L221.7,658.6 L223.4,657.6 L225.3,656.8 L227.1,655.9 L229.1,655.3 L230.5,653.8 L232.0,652.4 L233.7,651.4 L235.3,650.0 L236.8,648.8 L238.4,647.5 L240.1,646.5 L241.9,645.5 L243.7,644.7 L245.5,643.8 L247.4,643.1 L249.2,642.2 L250.9,641.2 L252.8,640.4 L254.6,639.5 L256.2,638.4 L258.0,637.4 L259.7,636.5 L261.7,636.0 L263.7,635.4 L265.5,634.6 L267.3,633.7 L269.0,632.7 L270.8,631.8 L272.6,630.8 L274.5,630.2 L276.4,629.5 L278.0,628.4 L279.9,627.6 L281.6,626.6 L283.4,625.6 L285.3,625.0 L287.1,624.2 L288.8,623.1 L290.7,622.4 L292.5,621.4 L294.4,620.9 L296.3,620.3 L298.1,619.4 L300.2,619.1 L302.2,618.7 L303.9,617.5 L305.5,616.4 L307.4,615.7 L309.3,615.1 L311.0,614.0 L312.7,612.9 L314.6,612.3 L316.5,611.5 L318.3,610.7 L320.2,610.0 L321.8,608.7 L323.5,607.7 L325.3,606.6 L327.2,606.0 L329.3,605.9 L331.1,605.1 L333.0,604.4 L335.0,604.0 L336.8,603.1 L338.6,602.1 L340.4,601.4 L342.2,600.4 L344.1,599.7 L346.0,599.1 L347.9,598.6 L349.8,598.0 L351.7,597.2 L353.5,596.5 L355.4,595.8 L357.2,594.7 L359.1,594.2 L361.0,593.6 L362.8,592.7 L364.7,592.1 L366.6,591.3 L368.4,590.5 L370.3,589.9 L372.3,589.6 L374.2,589.0 L376.2,588.5 L378.1,587.8 L379.6,586.2 L381.4,585.4 L383.7,585.7 L385.6,585.2 L387.3,584.0 L389.2,583.3 L391.2,582.9 L393.2,582.6 L395.0,581.8 L396.8,580.8 L398.7,580.2 L400.6,579.5 L402.3,578.3 L404.1,577.6 L406.1,577.0 L407.8,576.0 L409.7,575.4 L411.5,574.6 L413.1,573.1 L415.0,572.5 L417.2,572.6 L419.0,571.6 L420.7,570.6 L422.6,569.9 L424.4,569.0 L426.2,568.2 L428.1,567.6 L430.0,566.8 L431.8,566.0 L433.6,565.1 L435.6,564.7 L437.6,564.4 L439.4,563.5 L441.2,562.5 L442.9,561.5 L444.8,560.9 L446.9,560.7 L448.6,559.5 L450.5,558.8 L452.3,558.0 L454.0,556.9 L456.1,556.7 L457.9,555.7 L459.6,554.6 L461.6,554.3 L463.7,554.1 L465.5,553.3 L467.4,552.7 L469.2,551.9 L471.2,551.3 L473.1,550.7 L474.8,549.7 L476.7,549.1 L478.6,548.5 L480.6,548.0 L482.6,547.7 L484.4,546.8 L486.1,545.6 L487.8,544.4 L489.6,543.6 L491.6,543.1 L493.5,542.6 L495.4,541.9 L497.3,541.2 L499.2,540.6 L501.0,539.7 L502.8,538.8 L504.9,538.6 L506.9,538.4 L508.6,537.4 L510.6,536.8 L512.4,536.1 L514.2,535.2 L516.0,534.2 L518.0,533.7 L520.0,533.4 L521.9,532.8 L523.8,532.2 L525.6,531.3 L527.4,530.4 L529.3,529.8 L531.2,529.1 L532.9,528.0 L534.8,527.3 L536.7,526.8 L538.7,526.2 L540.6,525.7 L542.4,524.8 L544.2,523.9 L546.0,523.1 L547.8,522.2 L549.7,521.6 L551.6,521.0 L553.5,520.3 L555.2,519.2 L557.1,518.4 L559.0,517.8 L560.7,516.7 L562.5,515.8 L564.2,514.9 L566.3,514.6 L568.2,514.0 L569.9,512.8 L571.6,511.7 L573.2,510.4 L575.1,509.8 L576.9,509.0 L578.8,508.3 L580.6,507.3 L582.4,506.5 L584.4,506.1 L586.1,504.9 L587.8,503.9 L589.6,502.9 L591.3,501.9 L593.2,501.3 L595.2,500.7 L596.8,499.6 L598.5,498.5 L600.5,498.0 L602.2,496.9 L603.9,495.8 L605.8,495.0 L607.5,494.1 L609.5,493.6 L611.5,493.2 L613.6,493.0 L615.5,492.3 L617.2,491.3 L618.9,490.2 L620.6,489.1 L622.5,488.4 L624.2,487.3 L626.2,486.8 L628.1,486.3 L629.8,485.0 L631.6,484.3 L633.6,483.8 L635.6,483.4 L637.3,482.4 L639.1,481.4 L641.0,480.7 L642.7,479.6 L644.6,478.9 L646.5,478.3 L648.2,477.3 L650.1,476.7 L651.9,475.8 L653.7,474.9 L655.6,474.2 L657.3,473.1 L659.1,472.3 L661.1,471.9 L662.9,471.0 L664.7,470.1 L666.8,469.8 L668.6,468.9 L670.2,467.7 L672.2,467.2 L674.0,466.4 L675.8,465.5 L677.6,464.7 L679.5,464.0 L681.4,463.4 L683.1,462.3 L685.0,461.7 L687.0,461.1 L688.6,459.9 L690.3,458.9 L692.2,458.0 L694.1,457.4 L695.9,456.6 L697.8,456.0 L699.5,454.8 L701.2,453.7 L703.2,453.4 L705.1,452.6 L706.9,451.7 L708.8,451.1 L710.6,450.3 L712.3,449.2 L714.1,448.3 L716.1,447.8 L718.0,447.2 L719.6,445.9 L721.4,445.0 L723.2,444.1 L725.0,443.2 L726.9,442.6 L728.6,441.5 L730.3,440.5 L732.0,439.3 L733.9,438.6 L735.9,438.2 L737.6,437.1 L739.4,436.3 L741.2,435.3 L742.8,434.2 L744.6,433.3 L746.3,432.3 L748.5,432.1 L750.3,431.3 L751.9,429.9 L753.8,429.4 L755.4,428.0 L757.0,426.8 L759.1,426.5 L760.8,425.3 L762.6,424.6 L764.3,423.5 L766.1,422.6 L768.2,422.2 L769.7,420.8 L771.2,419.5 L773.1,418.8 L775.0,418.0 L776.7,416.9 L778.5,416.0 L780.3,415.3 L781.9,414.1 L783.6,412.9 L785.3,412.0 L786.8,410.5 L788.5,409.4 L790.6,409.0 L792.5,408.4 L794.4,407.7 L796.0,406.4 L797.5,405.1 L799.5,404.5 L801.3,403.6 L803.1,402.7 L804.9,401.9 L806.6,400.7 L808.2,399.5 L809.9,398.5 L812.1,398.3 L814.0,397.7 L815.8,396.7 L817.4,395.6 L819.0,394.3 L820.8,393.3 L822.6,392.5 L824.5,391.8 L826.2,390.8 L828.1,390.1 L829.7,388.9 L831.3,387.6 L833.0,386.6 L834.8,385.7 L836.7,385.0 L838.3,383.8 L840.2,383.0 L842.1,382.3 L843.7,381.2 L845.3,379.8 L846.9,378.6 L848.7,377.8 L850.5,376.8 L852.2,375.8 L854.0,375.0 L855.9,374.2 L857.5,373.0 L859.3,372.1 L861.3,371.6 L862.9,370.3 L864.6,369.3 L866.7,369.0 L868.3,367.7 L869.9,366.4 L871.5,365.3 L873.2,364.3 L875.1,363.5 L876.8,362.5 L878.6,361.5 L880.1,360.3 L881.9,359.4 L883.6,358.3 L885.3,357.2 L887.1,356.2 L888.7,355.1 L890.5,354.2 L892.4,353.4 L893.9,352.0 L895.5,350.9 L897.4,350.2 L898.9,348.8 L900.6,347.7 L902.3,346.7 L904.1,345.7 L905.9,344.9 L907.6,343.8 L909.4,342.9 L911.1,341.9 L912.9,340.9 L914.8,340.3 L916.3,338.9 L918.0,337.8 L920.1,337.5 L921.6,336.1 L923.2,334.8 L925.0,333.9 L926.7,333.0 L928.5,331.9 L930.2,330.9 L932.0,330.1 L933.9,329.4 L935.6,328.3 L937.4,327.5 L939.3,326.8 L941.0,325.7 L942.6,324.4 L944.4,323.6 L946.4,323.0 L947.7,321.3 L949.2,319.9 L951.1,319.2 L953.0,318.5 L954.9,317.8 L956.5,316.6 L958.2,315.4 L960.0,314.6 L961.5,313.2 L963.2,312.2 L965.1,311.4 L966.7,310.2 L968.4,309.1 L969.9,307.8 L971.5,306.6 L973.4,305.8 L975.3,305.1 L976.9,303.9 L978.7,303.0 L980.4,302.0 L981.9,300.5 L983.6,299.4 L985.3,298.5 L987.2,297.6 L989.0,296.8 L990.8,295.9 L992.5,294.8 L994.1,293.7 L995.7,292.4 L997.4,291.3 L999.0,290.2 L1000.5,288.8 L1002.1,287.6 L1003.7,286.4 L1005.4,285.3 L1007.0,284.2 L1008.9,283.4 L1010.8,282.6 L1012.3,281.2 L1013.6,279.6 L1015.1,278.3 L1016.7,277.1 L1018.1,275.6 L1019.7,274.4 L1021.2,273.1 L1022.8,271.9 L1024.6,270.9 L1026.2,269.8 L1027.6,268.3 L1029.3,267.2 L1030.9,266.0 L1032.2,264.4" stroke="#008000" stroke-width="7.2"/>
<path class="ln" d="M1027.6,268.3 L1029.3,267.2 L1030.9,266.0 L1032.2,264.4 L1033.8,263.2 L1035.6,262.2 L1037.4,261.3 L1038.8,259.9 L1040.2,258.4 L1041.5,256.9 L1043.2,255.8 L1044.5,254.2 L1045.8,252.7 L1047.2,251.3 L1048.6,249.9 L1050.4,248.8 L1052.1,247.7 L1053.2,245.9 L1054.7,244.6 L1056.5,243.6 L1057.8,242.1 L1059.6,241.0 L1060.9,239.5 L1062.2,238.0 L1063.9,236.9 L1065.4,235.6 L1066.8,234.1 L1068.4,232.9 L1070.0,231.7 L1071.3,230.1 L1073.0,229.1 L1074.9,228.2 L1075.9,226.3 L1077.4,224.9 L1079.5,224.4 L1081.4,223.6 L1082.9,222.2 L1084.0,220.4 L1085.6,219.2 L1087.5,218.4 L1089.2,217.3 L1090.6,215.8 L1092.0,214.4 L1093.8,213.5 L1095.4,212.3 L1097.0,211.0 L1098.6,209.9 L1100.4,208.9 L1101.9,207.6 L1103.4,206.2 L1104.7,204.6 L1106.4,203.5 L1108.3,202.7 L1109.7,201.2 L1110.7,199.4 L1112.0,197.9 L1113.8,196.9 L1114.2,197.2" stroke="#008000" stroke-width="7.8"/>
<g font-size="36px" text-anchor="middle">
<text x="587.3" y="676.1" style="fill:#000">X</text>
<text x="1106.5" y="376.8" style="fill:#f00">X</text>
<text x="1226.4" y="117.9" style="fill:#00f">X</text>
<text x="1114.5" y="208.5" style="fill:#008000">X</text>
</g>
<rect class="cr" x="215" y="113" width="98" height="5" fill="#000"/>
<text x="333.6" y="129.7" font-size="41.5px" style="word-spacing:0.4px">Neat mPP/mPOE blend</text>
<rect class="cr" x="215" y="164" width="98" height="5" fill="#f00"/>
<text x="333.6" y="180.7" font-size="41.5px" style="word-spacing:1.6px">PETMP 0.5 phr</text>
<path class="ln" d="M217,217.8 L311,217.8" stroke="#00f" stroke-width="6"/>
<text x="333.6" y="232.0" font-size="41.5px" style="word-spacing:1.6px">PETMP 1.0 phr</text>
<path class="ln" d="M217,269.4 L311,269.4" stroke="#008000" stroke-width="7"/>
<text x="333.6" y="283.6" font-size="41.5px" style="word-spacing:1.6px">PETMP 2.0 phr</text>
</svg></body></html>
